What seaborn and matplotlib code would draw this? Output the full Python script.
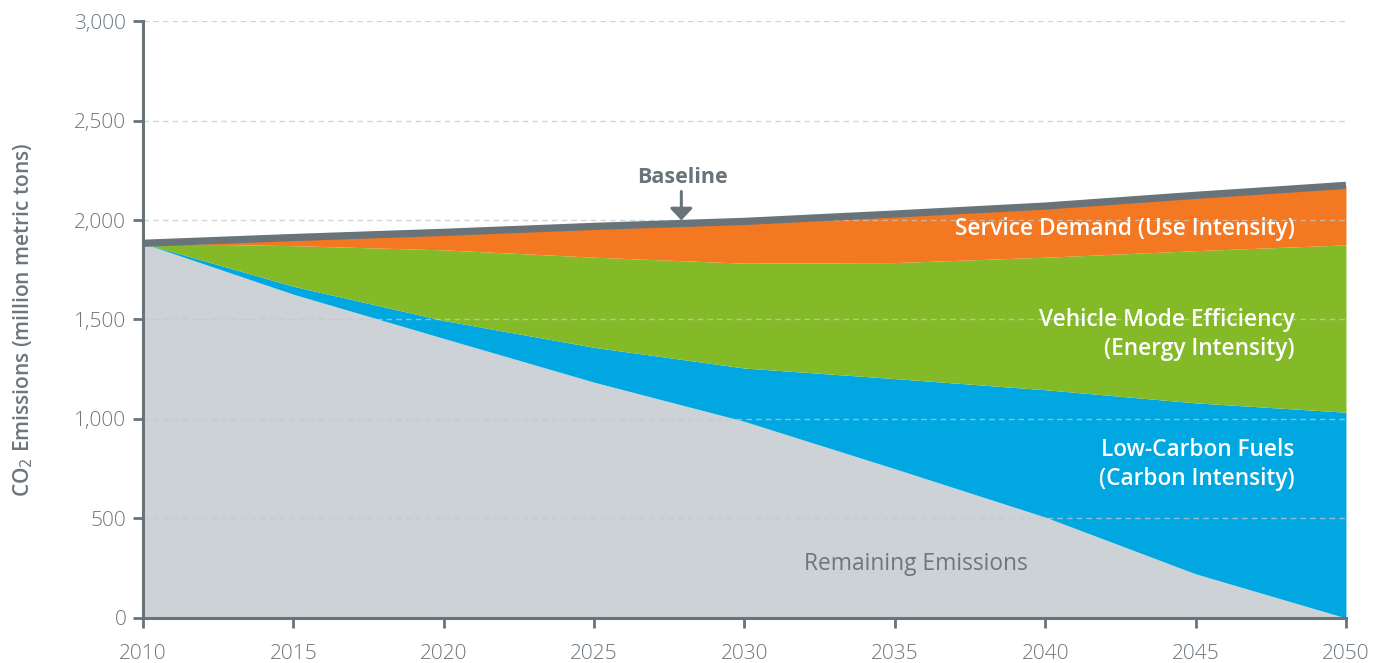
"""
Transport CO2 emissions wedges (2010-2050), stacked area chart.
"""

import matplotlib.pyplot as plt
import seaborn as sns

# values (million metric tons CO2)
YEARS = [2010, 2015, 2020, 2025, 2030, 2035, 2040, 2045, 2050]
BASELINE = [1883, 1912, 1938, 1968, 1993, 2030, 2070, 2124, 2174]
SERVICE_DEMAND_FLOOR = [1883, 1871, 1850, 1813, 1783, 1786, 1813, 1846, 1875]
EFFICIENCY_FLOOR = [1883, 1667, 1495, 1360, 1256, 1203, 1147, 1081, 1034]
REMAINING = [1883, 1627, 1405, 1185, 988, 750, 507, 222, 0]

Y_TICKS = [0, 500, 1000, 1500, 2000, 2500, 3000]
X_TICKS = list(range(2010, 2051, 5))

GREY_FILL = "#CDD2D6"
BLUE = "#00A7E1"
GREEN = "#84BA28"
ORANGE = "#F47721"
DARK = "#68737A"
TEXT = "#6D767D"

sns.set_theme(style="white")
plt.rcParams["font.family"] = ["Open Sans", "DejaVu Sans"]

fig = plt.figure(figsize=(13.86, 6.63), dpi=100)
ax = fig.add_axes([0.1032, 0.0679, 0.8679, 0.9004])

ax.fill_between(YEARS, 0, REMAINING, color=GREY_FILL, lw=0)
ax.fill_between(YEARS, REMAINING, EFFICIENCY_FLOOR, color=BLUE, lw=0)
ax.fill_between(YEARS, EFFICIENCY_FLOOR, SERVICE_DEMAND_FLOOR, color=GREEN, lw=0)
ax.fill_between(YEARS, SERVICE_DEMAND_FLOOR, BASELINE, color=ORANGE, lw=0)
sns.lineplot(x=YEARS, y=BASELINE, color=DARK, lw=5.2, ax=ax,
             solid_capstyle="butt", zorder=5)

ax.set_xlim(2010, 2050)
ax.set_ylim(0, 3000)
ax.set_xticks(X_TICKS)
ax.set_yticks(Y_TICKS)
ax.set_yticklabels([f"{v:,}" for v in Y_TICKS])

for y in Y_TICKS[1:]:
    ax.axhline(y, color="#C4C8CB", lw=1.0, ls=(0, (4, 3)), alpha=0.75, zorder=4)

for side in ["top", "right"]:
    ax.spines[side].set_visible(False)
for side in ["left", "bottom"]:
    ax.spines[side].set_color(DARK)
    ax.spines[side].set_linewidth(2.2)
    ax.spines[side].set_zorder(6)

ax.tick_params(axis="both", direction="out", length=7, width=2, color=DARK,
               labelcolor=TEXT, labelsize=15, left=True, bottom=True)
ax.tick_params(axis="x", pad=12)
ax.tick_params(axis="y", pad=5)
for lbl in ax.get_xticklabels() + ax.get_yticklabels():
    lbl.set_fontweight("light")

ax.set_ylabel("CO$_2$ Emissions (million metric tons)", color=TEXT,
              fontsize=15, fontweight="semibold")
ax.yaxis.set_label_coords(-0.09, 0.5)

# wedge labels
label_kw = dict(color="white", fontsize=16.3, fontweight="semibold",
                ha="right", va="center", linespacing=1.3, zorder=7)
ax.text(2048.3, 1955, "Service Demand (Use Intensity)", **label_kw)
ax.text(2048.3, 1425, "Vehicle Mode Efficiency\n(Energy Intensity)", **label_kw)
ax.text(2048.3, 772, "Low-Carbon Fuels\n(Carbon Intensity)", **label_kw)
ax.text(2035.7, 270, "Remaining Emissions", color=TEXT, fontsize=16.4,
        ha="center", va="center", zorder=7)

ax.text(2027.95, 2213, "Baseline", ha="center", va="center", color=DARK,
        fontsize=15.5, fontweight="bold", zorder=7)
ax.annotate("", xy=(2027.9, 1998), xytext=(2027.9, 2143), zorder=7,
            arrowprops=dict(arrowstyle="-|>,head_width=0.34,head_length=0.36",
                            mutation_scale=20, color=DARK, lw=2.2,
                            shrinkA=0, shrinkB=0))

fig.savefig("out.png", dpi=100)
plt.close(fig)
